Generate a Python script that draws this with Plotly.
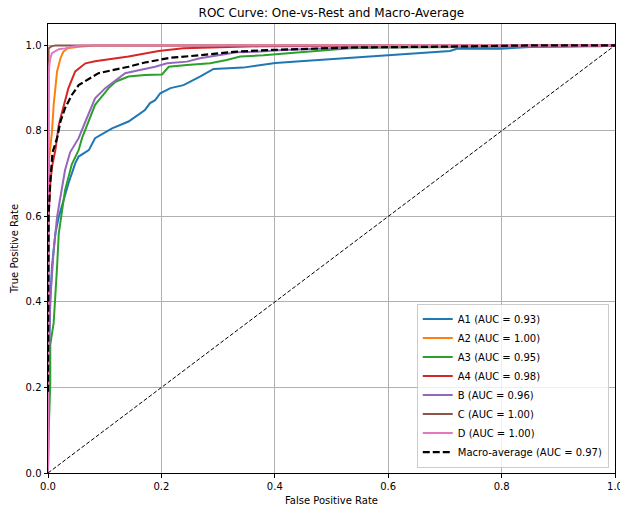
import plotly.graph_objects as go

# ---- data ----
class_names = ["A1", "A2", "A3", "A4", "B", "C", "D"]
auc_values = [0.93, 1.00, 0.95, 0.98, 0.96, 1.00, 1.00]
macro_auc = 0.97

fpr_a1 = [0, 0.000, 0.002, 0.004, 0.007, 0.013, 0.019, 0.027, 0.036, 0.048, 0.054, 0.072, 0.083, 0.113, 0.142, 0.171,
          0.180, 0.189, 0.198, 0.216, 0.239, 0.268, 0.292, 0.344, 0.401, 0.445, 0.515, 0.533, 0.603, 0.709, 0.721,
          0.797, 0.850, 0.915, 1.0]
tpr_a1 = [0, 0.10, 0.30, 0.405, 0.482, 0.560, 0.599, 0.638, 0.677, 0.724, 0.740, 0.755, 0.783, 0.806, 0.822, 0.849,
          0.865, 0.872, 0.888, 0.900, 0.907, 0.927, 0.945, 0.948, 0.959, 0.963, 0.969, 0.971, 0.977, 0.987, 0.992,
          0.992, 0.996, 0.998, 1.0]

fpr_a2 = [0, 0, 0.002, 0.007, 0.010, 0.016, 0.022, 0.027, 0.034, 0.054, 0.083, 1.0]
tpr_a2 = [0, 0.60, 0.736, 0.798, 0.861, 0.939, 0.970, 0.985, 0.993, 0.997, 1.0, 1.0]

fpr_a3 = [0, 0.001, 0.004, 0.004, 0.010, 0.013, 0.016, 0.019, 0.025, 0.030, 0.042, 0.054, 0.060, 0.072, 0.083, 0.107,
          0.119, 0.142, 0.171, 0.201, 0.213, 0.245, 0.286, 0.315, 0.339, 0.380, 0.415, 0.497, 0.533, 0.597, 0.75,
          0.973, 1.0]
tpr_a3 = [0, 0.09, 0.21, 0.30, 0.351, 0.405, 0.482, 0.560, 0.622, 0.661, 0.722, 0.755, 0.783, 0.822, 0.861, 0.900,
          0.915, 0.927, 0.931, 0.932, 0.950, 0.954, 0.958, 0.966, 0.974, 0.977, 0.981, 0.989, 0.993, 0.995, 0.996,
          0.998, 1.0]

fpr_a4 = [0, 0, 0.001, 0.004, 0.007, 0.013, 0.019, 0.025, 0.036, 0.048, 0.066, 0.083, 0.113, 0.142, 0.171, 0.195,
          0.239, 0.298, 0.374, 1.0]
tpr_a4 = [0, 0.45, 0.599, 0.677, 0.716, 0.755, 0.814, 0.845, 0.900, 0.939, 0.958, 0.963, 0.968, 0.974, 0.981, 0.987,
          0.993, 0.995, 0.998, 1.0]

fpr_b = [0, 0.000, 0.001, 0.003, 0.004, 0.010, 0.016, 0.022, 0.030, 0.039, 0.054, 0.066, 0.083, 0.101, 0.119, 0.136,
         0.160, 0.189, 0.210, 0.245, 0.268, 0.304, 0.333, 0.368, 0.415, 0.533, 0.70, 0.915, 1.0]
tpr_b = [0, 0.10, 0.20, 0.35, 0.405, 0.521, 0.599, 0.646, 0.708, 0.750, 0.783, 0.822, 0.876, 0.900, 0.919, 0.935,
         0.942, 0.950, 0.958, 0.962, 0.970, 0.977, 0.984, 0.985, 0.989, 0.995, 0.996, 0.998, 1.0]

fpr_c = [0, 0, 0.001, 0.005, 0.013, 0.02, 1.0]
tpr_c = [0, 0.97, 0.993, 0.997, 1.0, 1.0, 1.0]

fpr_d = [0, 0, 0.001, 0.002, 0.004, 0.007, 0.019, 0.030, 0.042, 0.060, 1.0]
tpr_d = [0, 0.60, 0.87, 0.95, 0.97, 0.982, 0.991, 0.993, 0.997, 1.0, 1.0]

fpr_macro = [0, 0.001, 0.004, 0.008, 0.016, 0.022, 0.030, 0.042, 0.054, 0.072, 0.089, 0.113, 0.142, 0.171, 0.201,
             0.216, 0.268, 0.327, 0.386, 0.445, 0.533, 0.70, 0.856, 1.0]
tpr_macro = [0.19, 0.60, 0.68, 0.75, 0.783, 0.822, 0.853, 0.884, 0.907, 0.922, 0.935, 0.942, 0.950, 0.960, 0.968,
             0.971, 0.977, 0.985, 0.989, 0.991, 0.995, 0.997, 1.0, 1.0]

diag_x = [0, 1]
diag_y = [0, 1]

tick_vals = [0.0, 0.2, 0.4, 0.6, 0.8, 1.0]
tick_text = ["0.0", "0.2", "0.4", "0.6", "0.8", "1.0"]

colors = ["#1f77b4", "#ff7f0e", "#2ca02c", "#d62728", "#9467bd", "#8c564b", "#e377c2"]

fprs = [fpr_a1, fpr_a2, fpr_a3, fpr_a4, fpr_b, fpr_c, fpr_d]
tprs = [tpr_a1, tpr_a2, tpr_a3, tpr_a4, tpr_b, tpr_c, tpr_d]

fig = go.Figure()
for name, auc, fx, ty, col in zip(class_names, auc_values, fprs, tprs, colors):
    fig.add_trace(go.Scatter(x=fx, y=ty, mode="lines", name=f"{name} (AUC = {auc:.2f})",
                             line=dict(color=col, width=2)))

fig.add_trace(go.Scatter(x=fpr_macro, y=tpr_macro, mode="lines",
                         name=f"Macro-average (AUC = {macro_auc:.2f})",
                         line=dict(color="black", width=2.2, dash="7px,3px")))

fig.add_trace(go.Scatter(x=diag_x, y=diag_y, mode="lines", showlegend=False,
                         line=dict(color="black", width=1, dash="4px,2px")))

axis_common = dict(
    showline=True, linecolor="black", linewidth=1, mirror=True,
    ticks="outside", ticklen=3.5, tickwidth=1, tickcolor="black",
    showgrid=True, gridcolor="#b0b0b0", gridwidth=1, zeroline=False,
    tickfont=dict(size=10, color="black"),
    tickvals=tick_vals, ticktext=tick_text,
    ticklabeloverflow="allow", automargin=False,
)

fig.update_layout(
    width=620, height=506,
    margin=dict(l=47.7, r=4.8, t=23.5, b=32.7),
    paper_bgcolor="white", plot_bgcolor="white",
    font=dict(family="DejaVu Sans", size=10, color="black"),
    title=dict(text="ROC Curve: One-vs-Rest and Macro-Average", x=0.5345, xanchor="center",
               y=1 - 13 / 506, yanchor="middle", font=dict(size=12, color="black")),
    xaxis=dict(range=[0, 1], title=dict(text="False Positive Rate", font=dict(size=10), standoff=6), **axis_common),
    yaxis=dict(range=[0, 1.05], title=dict(text="True Positive Rate", font=dict(size=10), standoff=5), **axis_common),
    legend=dict(x=0.989, y=0.012, xanchor="right", yanchor="bottom",
                bgcolor="rgba(255,255,255,0.8)", bordercolor="#cccccc", borderwidth=1,
                font=dict(size=10), tracegroupgap=0, itemwidth=30),
    showlegend=True,
)

fig.write_html("out.html", config={"displayModeBar": False},
               post_script="document.body.style.margin='0';document.body.style.overflow='hidden';")
